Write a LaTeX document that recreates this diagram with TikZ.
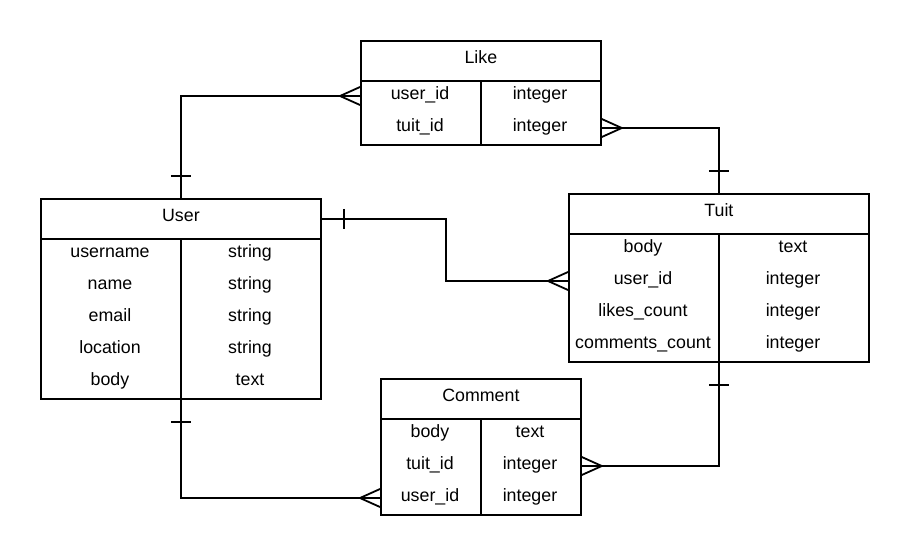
\documentclass[tikz,border=0pt]{standalone}
\usepackage{fontspec}
\setmainfont{Liberation Sans}
\usetikzlibrary{calc}

\tikzset{
  tblbox/.style={draw, line width=1.8pt, anchor=north west, inner sep=0pt},
  tblhead/.style={tblbox, text height=12.5pt, text depth=7.5pt},
  field/.style={inner sep=0pt, text height=12.5pt, text depth=5.5pt},
  many/.pic={\draw[line width=1.8pt] (0,-9) -- (20,0) -- (0,9);},
  one/.pic={\draw[line width=1.8pt] (22,-10) -- (22,10);}
}

\begin{document}
\begin{tikzpicture}[x=1pt,y=-1pt,font=\fontsize{17.8}{20}\selectfont]
\useasboundingbox (0,0) rectangle (908,554);

% Like
\node[tblhead, minimum width=240, minimum height=40] (likeH) at (360,40) {Like};
\node[tblbox, minimum width=240, minimum height=64] (likeB) at (360,80) {};
\draw[line width=1.8pt] (likeB.north) -- (likeB.south);
\foreach \f/\t [count=\i] in {user\_id/integer, tuit\_id/integer}{
  \node[field] (likeR\i) at (420,{64+32*\i}) {\f};
  \node[field] (likeT\i) at (540,{64+32*\i}) {\t};
}

% User
\node[tblhead, minimum width=280, minimum height=40] (userH) at (40,198) {User};
\node[tblbox, minimum width=280, minimum height=160] (userB) at (40,238) {};
\draw[line width=1.8pt] (userB.north) -- (userB.south);
\foreach \f/\t [count=\i] in {username/string, name/string, email/string, location/string, body/text}{
  \node[field] (userR\i) at (110,{222+32*\i}) {\f};
  \node[field] (userT\i) at (250,{222+32*\i}) {\t};
}

% Tuit
\node[tblhead, minimum width=300, minimum height=40] (tuitH) at (568,193) {Tuit};
\node[tblbox, minimum width=300, minimum height=128] (tuitB) at (568,233) {};
\draw[line width=1.8pt] (tuitB.north) -- (tuitB.south);
\foreach \f/\t [count=\i] in {body/text, user\_id/integer, likes\_count/integer, comments\_count/integer}{
  \node[field] (tuitR\i) at (643,{217+32*\i}) {\f};
  \node[field] (tuitT\i) at (793,{217+32*\i}) {\t};
}

% Comment
\node[tblhead, minimum width=200, minimum height=40] (comH) at (380,378) {Comment};
\node[tblbox, minimum width=200, minimum height=96] (comB) at (380,418) {};
\draw[line width=1.8pt] (comB.north) -- (comB.south);
\foreach \f/\t [count=\i] in {body/text, tuit\_id/integer, user\_id/integer}{
  \node[field] (comR\i) at (430,{402+32*\i}) {\f};
  \node[field] (comT\i) at (530,{402+32*\i}) {\t};
}

% relations
\draw[line width=1.8pt] (userH.north) |- (likeR1 -| likeH.west);
\pic[rotate=90] at (userH.north) {one};
\pic[rotate=180] at (likeR1 -| likeH.west) {many};

\draw[line width=1.8pt] (likeR2 -| likeH.east) -| (tuitH.north);
\pic at (likeR2 -| likeH.east) {many};
\pic[rotate=90] at (tuitH.north) {one};

\draw[line width=1.8pt] (userH.east) -- ++(124,0) |- (tuitR2 -| tuitH.west);
\pic at (userH.east) {one};
\pic[rotate=180] at (tuitR2 -| tuitH.west) {many};

\draw[line width=1.8pt] (tuitB.south) |- (comR2 -| comH.east);
\pic[rotate=-90] at (tuitB.south) {one};
\pic at (comR2 -| comH.east) {many};

\draw[line width=1.8pt] (userB.south) |- (comR3 -| comH.west);
\pic[rotate=-90] at (userB.south) {one};
\pic[rotate=180] at (comR3 -| comH.west) {many};

\end{tikzpicture}
\end{document}
